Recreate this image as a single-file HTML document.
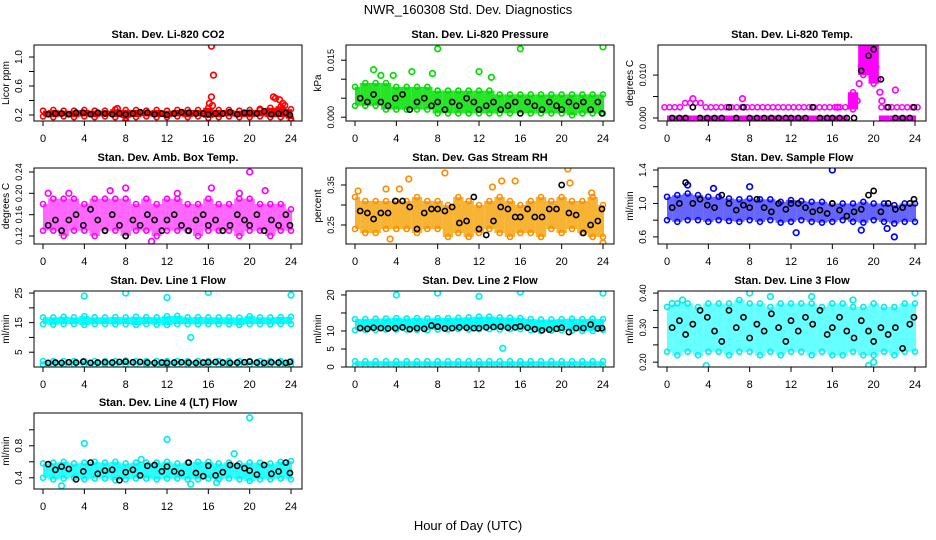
<!DOCTYPE html>
<html><head><meta charset="utf-8">
<style>
html,body{margin:0;padding:0;background:#fff;}
svg{display:block;font-family:"Liberation Sans",Arial,sans-serif;}
</style></head>
<body>
<svg id="chart" width="936" height="540" viewBox="0 0 936 540" xmlns="http://www.w3.org/2000/svg">
<text x="468" y="14" text-anchor="middle" font-size="13">NWR_160308  Std. Dev. Diagnostics</text>
<text x="468" y="530" text-anchor="middle" font-size="13">Hour of Day (UTC)</text>
</svg>
<script>
const hours=[0,1,2,3,4,5,6,7,8,9,10,11,12,13,14,15,16,17,18,19,20,21,22,23,24];
const blkX=[0.5,1.2,1.8,2.5,3.2,3.9,4.6,5.3,6,6.7,7.4,8,8.7,9.4,10.1,10.8,11.5,12,12.7,13.4,14.1,14.8,15.5,16,16.7,17.4,18.1,18.8,19.5,20,20.7,21.4,22.1,22.8,23.5,23.9];
const xTicks=[0,4,8,12,16,20,24];

// CO2
const co2Lo=[0.18,0.17,0.18,0.17,0.18,0.17,0.18,0.17,0.16,0.17,0.18,0.17,0.17,0.18,0.17,0.18,0.16,0.17,0.18,0.17,0.17,0.18,0.17,0.17,0.15];
const co2Hi=[0.26,0.27,0.26,0.26,0.27,0.26,0.26,0.28,0.27,0.27,0.26,0.27,0.26,0.27,0.27,0.27,0.30,0.27,0.27,0.26,0.27,0.27,0.30,0.32,0.28];
const co2OutX=[16.3,16.5,16.3,16.1,16.4,22.3,22.5,22.9,23.2,23.4,8.0,24.0,7.2,21.0];
const co2OutY=[1.15,0.75,0.45,0.36,0.33,0.45,0.43,0.41,0.36,0.33,0.12,0.12,0.29,0.28];
const co2Blk=[0.21,0.22,0.22,0.21,0.23,0.23,0.21,0.23,0.22,0.21,0.22,0.21,0.22,0.24,0.23,0.21,0.22,0.20,0.22,0.24,0.23,0.22,0.22,0.21,0.22,0.22,0.24,0.21,0.23,0.23,0.22,0.25,0.21,0.22,0.23,0.20];
// Pressure
const presLo=[0.003,0.003,0.003,0.002,0.002,0.002,0.002,0.002,0.001,0.001,0.001,0.001,0.001,0.001,0.001,0.001,0.001,0.001,0.001,0.001,0.001,0.0005,0.001,0.001,0.001];
const presHi=[0.008,0.009,0.009,0.009,0.008,0.008,0.008,0.008,0.007,0.007,0.007,0.007,0.007,0.007,0.006,0.006,0.006,0.006,0.006,0.006,0.006,0.006,0.006,0.006,0.006];
const presOutX=[1.8,2.5,5.5,8,12,13.2,16,24,3.7,7.5];
const presOutY=[0.0125,0.011,0.012,0.018,0.012,0.0105,0.018,0.0185,0.011,0.0115];
const presBlk=[0.005,0.004,0.006,0.004,0.003,0.005,0.006,0.002,0.004,0.005,0.003,0.004,0.002,0.004,0.003,0.005,0.004,0.002,0.003,0.004,0.002,0.003,0.004,0.001,0.004,0.003,0.002,0.004,0.003,0.002,0.004,0.003,0.004,0.002,0.004,0.001];
// Li-820 temp
const tempLo=[0,0,0,0,0,0,0,0,0,0,0,0,0,0,0,0,0,0,0.002,0.010,0.008,0,0,0,0];
const tempHi=[0.0025,0.0025,0.0035,0.0035,0.0025,0.0025,0.0025,0.0025,0.0025,0.0025,0.0025,0.0025,0.0025,0.0025,0.0025,0.0025,0.0025,0.0025,0.006,0.017,0.017,0.0025,0.0025,0.0025,0.0025];
const tempOutX=[18.4,18.6,18.8,19,19.2,19.5,19.8,20,20.2,20.4,20.6,20.8,22.1,7.3,2.5,16.5];
const tempOutY=[0.004,0.008,0.012,0.015,0.017,0.016,0.017,0.014,0.012,0.009,0.006,0.004,0.0065,0.0045,0.0045,0.0025];
const tempBlk=[0,0,0,0.0025,0,0,0,0,0.0025,0,0.0025,0,0,0,0,0,0,0,0,0,0.0025,0,0,0,0,0,0,0.011,0.0145,0.016,0.009,0.0025,0,0,0,0.0025];
// Amb box temp
const ambLo=[0.13,0.13,0.12,0.13,0.13,0.12,0.13,0.13,0.12,0.13,0.13,0.12,0.13,0.13,0.13,0.12,0.13,0.13,0.13,0.12,0.13,0.13,0.12,0.13,0.13];
const ambHi=[0.18,0.19,0.19,0.19,0.18,0.19,0.19,0.19,0.19,0.18,0.19,0.18,0.19,0.19,0.18,0.18,0.19,0.18,0.18,0.19,0.19,0.18,0.18,0.18,0.17];
const ambOutX=[8,20,2.5,6.5,13,16.3,21.5,19,0.5,10.5];
const ambOutY=[0.21,0.24,0.20,0.205,0.20,0.21,0.205,0.2,0.2,0.11];
const ambBlk=[0.14,0.15,0.13,0.15,0.16,0.14,0.17,0.15,0.13,0.16,0.14,0.12,0.15,0.14,0.16,0.15,0.13,0.15,0.16,0.14,0.13,0.15,0.16,0.14,0.15,0.13,0.14,0.16,0.15,0.14,0.16,0.13,0.15,0.14,0.16,0.14];
// RH
const rhLo=[0.24,0.23,0.23,0.24,0.24,0.24,0.23,0.24,0.24,0.22,0.23,0.22,0.23,0.24,0.23,0.22,0.23,0.23,0.22,0.24,0.23,0.24,0.23,0.22,0.22];
const rhHi=[0.32,0.31,0.31,0.31,0.31,0.31,0.32,0.31,0.31,0.30,0.32,0.31,0.30,0.31,0.32,0.31,0.30,0.31,0.32,0.31,0.32,0.31,0.31,0.32,0.30];
const rhOutX=[0.3,3,3.4,5.2,8.7,13.3,14.2,15.5,20.6,20.8,24,4.3,22.9];
const rhOutY=[0.335,0.34,0.215,0.365,0.38,0.345,0.36,0.36,0.39,0.355,0.205,0.34,0.33];
const rhBlk=[0.285,0.28,0.265,0.28,0.28,0.31,0.31,0.295,0.24,0.28,0.29,0.29,0.285,0.295,0.255,0.26,0.32,0.24,0.225,0.26,0.295,0.29,0.27,0.27,0.29,0.27,0.27,0.29,0.29,0.35,0.28,0.275,0.23,0.25,0.26,0.29];
// Sample flow
const sfLo=[0.8,0.78,0.8,0.8,0.78,0.8,0.79,0.78,0.8,0.78,0.8,0.77,0.78,0.8,0.78,0.77,0.78,0.8,0.78,0.77,0.8,0.78,0.76,0.78,0.78];
const sfHi=[1.08,1.1,1.12,1.1,1.08,1.08,1.06,1.05,1.06,1.05,1.05,1.02,1.04,1.03,1.02,1.02,1.0,1.0,1.0,1.02,1.0,1.0,0.98,1.0,1.0];
const sfOutX=[16,22,8,2,21.3,4.5,12.5,18.8];
const sfOutY=[1.4,0.6,1.2,1.22,0.7,1.18,0.65,0.68];
const sfBlk=[0.95,1.0,1.25,1.0,1.05,0.98,0.95,1.1,1.0,0.92,0.98,0.95,1.05,0.95,0.9,1.0,0.93,1.0,1.0,0.95,0.9,0.92,0.88,1.0,0.92,0.85,0.9,0.93,1.1,1.15,0.9,1.0,0.93,0.95,1.0,1.05];
// Line 1
const l1Lo=[14.5,14.3,14.5,14.5,14.2,14.5,14.5,14.4,14.5,14.2,14.5,14.3,14.2,14.5,14.5,14.4,14.5,14.5,14.4,14.2,14.5,14.5,14.4,14.5,14.5];
const l1Hi=[16.8,16.8,17,16.8,17.2,16.8,16.8,16.9,16.8,17,16.9,16.8,17.2,17.3,16.8,16.9,16.8,16.8,16.8,16.7,17.2,16.8,16.8,16.9,17];
const l1Lo2=[0.8,0.8,0.8,0.8,0.8,0.8,0.8,0.8,0.8,0.8,0.8,0.8,0.8,0.8,0.8,0.8,0.8,0.8,0.8,0.8,0.8,0.8,0.8,0.8,0.8];
const l1Hi2=[2,2,2,2,2,2,2,2,2.2,2,2,2,2,2,2,2,2,2,2,2,2,2,2,2,2];
const l1OutX=[4,8,12,16,24,14.3];
const l1OutY=[24,25,23.5,25.2,24.3,10];
const l1Blk=[1.4,1.5,1.4,1.6,1.5,1.8,1.4,1.5,1.6,1.5,1.7,1.8,1.6,1.7,1.5,1.4,1.5,1.4,1.5,1.6,1.5,1.4,1.5,1.6,1.7,1.5,1.4,1.5,1.6,1.8,1.5,1.4,1.6,1.5,1.4,1.7];
// Line 2
const l2Lo=[10.2,10.3,10.3,10.4,10.4,10.4,10.3,10.2,10.4,10.4,10.5,10.4,10.5,10.5,10.4,10.5,10.5,10.2,10.0,10.1,10.2,10.1,10.0,10.0,10.3];
const l2Hi=[13.3,13.3,13.4,13.5,13.6,13.5,13.6,13.5,13.6,13.6,13.7,13.8,14.0,14.0,13.8,13.7,13.6,13.3,13.2,13.2,13.3,13.4,13.3,13.4,13.3];
const l2Lo2=[0.3,0.3,0.3,0.3,0.3,0.3,0.3,0.3,0.3,0.3,0.3,0.3,0.3,0.3,0.3,0.3,0.3,0.3,0.3,0.3,0.3,0.3,0.3,0.3,0.3];
const l2Hi2=[1.6,1.6,1.6,1.6,1.6,1.6,1.6,1.6,1.6,1.6,1.6,1.6,1.6,1.6,1.6,1.6,1.6,1.6,1.6,1.6,1.6,1.6,1.6,1.6,1.6];
const l2OutX=[4,8,12,16,24,14.3];
const l2OutY=[20,20.5,19.6,20.8,20.5,5.2];
const l2Blk=[10.8,10.6,10.9,10.8,10.7,10.8,11,10.5,10.8,10.6,11.5,11.2,10.7,10.8,11,10.9,10.8,10.8,11,11.1,11.2,10.9,11,11.3,10.9,10.5,10.2,10.4,10.6,10.9,9.7,10.8,10.8,11.8,10.7,10.8];
// Line 3
const l3Lo=[0.23,0.22,0.23,0.22,0.23,0.23,0.22,0.23,0.23,0.22,0.23,0.22,0.23,0.23,0.22,0.23,0.22,0.22,0.23,0.22,0.22,0.23,0.22,0.23,0.23];
const l3Hi=[0.36,0.37,0.37,0.36,0.37,0.37,0.37,0.38,0.37,0.37,0.36,0.37,0.37,0.37,0.37,0.36,0.37,0.37,0.36,0.36,0.37,0.36,0.36,0.37,0.37];
const l3OutX=[1.5,3.8,8,10,14,19.5,20,24,0.5,18];
const l3OutY=[0.38,0.19,0.40,0.39,0.39,0.19,0.20,0.40,0.37,0.38];
const l3Blk=[0.30,0.32,0.28,0.31,0.35,0.33,0.29,0.26,0.35,0.30,0.33,0.27,0.31,0.29,0.34,0.30,0.26,0.32,0.29,0.33,0.31,0.35,0.28,0.30,0.33,0.29,0.27,0.32,0.29,0.26,0.30,0.28,0.30,0.24,0.31,0.33];
// Line 4
const l4Lo=[0.40,0.38,0.39,0.40,0.38,0.39,0.39,0.37,0.38,0.39,0.39,0.38,0.39,0.39,0.38,0.38,0.39,0.38,0.39,0.38,0.36,0.38,0.38,0.39,0.38];
const l4Hi=[0.58,0.59,0.60,0.58,0.59,0.60,0.59,0.60,0.58,0.59,0.59,0.59,0.60,0.58,0.59,0.60,0.60,0.58,0.59,0.58,0.59,0.59,0.58,0.60,0.61];
const l4OutX=[4,12,20,18.5,1.8,9.5,14.3,16.8];
const l4OutY=[0.83,0.88,1.15,0.70,0.30,0.63,0.32,0.34];
const l4Blk=[0.57,0.50,0.54,0.51,0.38,0.48,0.59,0.45,0.49,0.50,0.37,0.47,0.50,0.43,0.55,0.56,0.48,0.54,0.48,0.46,0.59,0.46,0.42,0.55,0.43,0.47,0.56,0.55,0.52,0.49,0.44,0.56,0.45,0.48,0.59,0.46];

const NS="http://www.w3.org/2000/svg";
const svg=document.getElementById('chart');
function mk(tag,attrs,parent){const e=document.createElementNS(NS,tag);for(const k in attrs)e.setAttribute(k,attrs[k]);(parent||svg).appendChild(e);return e;}

const cols=[34,346,658], rows=[45,168,291,413], BW=268, BH=76;
const panels=[
 {title:"Stan. Dev. Li-820 CO2",ylab:"Licor ppm",ymin:0.117,ymax:1.166,ticks:[0.2,0.4,0.6,0.8,1.0],labels:["0.2","","0.6","","1.0"],color:"#ff0000",fill:"#ff0000",op:1,lo:co2Lo,hi:co2Hi,outX:co2OutX,outY:co2OutY,blk:co2Blk,r:0,c:0,name:"co2"},
 {title:"Stan. Dev. Li-820 Pressure",ylab:"kPa",ymin:-0.001,ymax:0.019,ticks:[0,0.005,0.010,0.015],labels:["0.000","","","0.015"],color:"#00dd00",fill:"#00e000",op:0.85,lo:presLo,hi:presHi,outX:presOutX,outY:presOutY,blk:presBlk,r:0,c:1,name:"pressure"},
 {title:"Stan. Dev. Li-820 Temp.",ylab:"degrees C",ymin:-0.0007,ymax:0.017,ticks:[0,0.005,0.010],labels:["0.000","","0.010"],color:"#ff00ff",fill:"#ff00ff",op:1,lo:tempLo,hi:tempHi,outX:tempOutX,outY:tempOutY,blk:tempBlk,r:0,c:2,name:"temp",sparse:true},
 {title:"Stan. Dev. Amb. Box Temp.",ylab:"degrees C",ymin:0.105,ymax:0.2475,ticks:[0.12,0.16,0.20,0.24],labels:["0.12","0.16","0.20","0.24"],color:"#ff00ff",fill:"#ff00ff",op:0.6,lo:ambLo,hi:ambHi,outX:ambOutX,outY:ambOutY,blk:ambBlk,r:1,c:0,name:"amb-temp"},
 {title:"Stan. Dev. Gas Stream RH",ylab:"percent",ymin:0.2025,ymax:0.3925,ticks:[0.25,0.30,0.35],labels:["0.25","","0.35"],color:"#ff8c00",fill:"#f5a000",op:0.8,lo:rhLo,hi:rhHi,outX:rhOutX,outY:rhOutY,blk:rhBlk,r:1,c:1,name:"rh"},
 {title:"Stan. Dev. Sample Flow",ylab:"ml/min",ymin:0.515,ymax:1.424,ticks:[0.6,0.8,1.0,1.2,1.4],labels:["0.6","","1.0","","1.4"],color:"#0000ff",fill:"#0000ff",op:0.6,lo:sfLo,hi:sfHi,outX:sfOutX,outY:sfOutY,blk:sfBlk,r:1,c:2,name:"sample-flow"},
 {title:"Stan. Dev. Line 1 Flow",ylab:"ml/min",ymin:0,ymax:25.7,ticks:[5,10,15,20,25],labels:["5","","15","","25"],color:"#00eeee",fill:"#00ffff",op:1,lo:l1Lo,hi:l1Hi,lo2:l1Lo2,hi2:l1Hi2,outX:l1OutX,outY:l1OutY,blk:l1Blk,r:2,c:0,name:"line1"},
 {title:"Stan. Dev. Line 2 Flow",ylab:"ml/min",ymin:0,ymax:21.1,ticks:[0,5,10,15,20],labels:["0","5","10","","20"],color:"#00eeee",fill:"#00ffff",op:1,lo:l2Lo,hi:l2Hi,lo2:l2Lo2,hi2:l2Hi2,outX:l2OutX,outY:l2OutY,blk:l2Blk,r:2,c:1,name:"line2"},
 {title:"Stan. Dev. Line 3 Flow",ylab:"ml/min",ymin:0.186,ymax:0.406,ticks:[0.20,0.25,0.30,0.35,0.40],labels:["0.20","","0.30","","0.40"],color:"#00eeee",fill:"#00ffff",op:0.6,lo:l3Lo,hi:l3Hi,outX:l3OutX,outY:l3OutY,blk:l3Blk,r:2,c:2,name:"line3"},
 {title:"Stan. Dev. Line 4 (LT) Flow",ylab:"ml/min",ymin:0.26,ymax:1.21,ticks:[0.4,0.6,0.8,1.0],labels:["0.4","","0.8",""],color:"#00eeee",fill:"#00ffff",op:0.85,lo:l4Lo,hi:l4Hi,outX:l4OutX,outY:l4OutY,blk:l4Blk,r:3,c:0,name:"line4"}
];

panels.forEach(p=>{
  const L=cols[p.c], T=rows[p.r];
  const X=v=>L+9+v*(248/24);
  const Y=v=>T+BH-(v-p.ymin)/(p.ymax-p.ymin)*BH;
  const g=mk('g',{});
  
  
  const t=mk('text',{x:L+BW/2,y:T-7,'text-anchor':'middle','font-size':11,'font-weight':'bold'},g);
  t.textContent=p.title;
  
  
  const clipId='clip-'+p.name;
  const cp=mk('clipPath',{id:clipId},g); mk('rect',{x:L,y:T,width:BW,height:BH},cp);
  const data=mk('g',{'clip-path':'url(#'+clipId+')'},g);
  function band(lo,hi,tag){
    hours.forEach((h,i)=>{
      const x1=X(Math.max(0,h-0.5)), x2=X(Math.min(24.1,h+0.5));
      const y1=Y(hi[i]), y2=Y(lo[i]);
      if(p.sparse && lo[i]===0 && hi[i]<=0.0035){
        const a=mk('rect',{x:x1,y:y2-2.5,width:x2-x1,height:5,fill:p.fill},data);
        
        
        [h-0.25,h+0.25].forEach(hx=>{
          const b=mk('circle',{cx:X(hx),cy:y1,r:2.5,fill:'none',stroke:p.fill,'stroke-width':1.6},data);
          
          
        });
        return;
      }
      const r=mk('rect',{x:x1,y:y1,width:x2-x1,height:Math.max(2,y2-y1),fill:p.fill,'fill-opacity':p.op},data);
      
      
      [y1,y2].forEach(yy=>{
        const c=mk('circle',{cx:X(h),cy:yy,r:2.5,fill:'none',stroke:p.color,'stroke-width':1.6},data);
        
        
      });
    });
  }
  band(p.lo,p.hi,p.name+'-band');
  if(p.lo2) band(p.lo2,p.hi2,p.name+'-low-band');
  p.outX.forEach((x,i)=>{
    const c=mk('circle',{cx:X(x),cy:Y(p.outY[i]),r:2.8,fill:'none',stroke:p.color,'stroke-width':1.7},data);
    
    
  });
  blkX.forEach((x,i)=>{
    const c=mk('circle',{cx:X(x),cy:Y(p.blk[i]),r:2.6,fill:'none',stroke:'#000','stroke-width':1.6},data);
    
    
  });
  const box=mk('rect',{x:L,y:T,width:BW,height:BH,fill:'none',stroke:'#000','stroke-width':1},g);
  
  
  xTicks.forEach(v=>{
    mk('line',{x1:X(v),x2:X(v),y1:T+BH,y2:T+BH+5,stroke:'#000'},g);
    const tl=mk('text',{x:X(v),y:T+BH+21,'text-anchor':'middle','font-size':11},g);
    tl.textContent=v;
    
    
  });
  p.ticks.forEach((v,i)=>{
    const yy=Y(v);
    mk('line',{x1:L,x2:L-5,y1:yy,y2:yy,stroke:'#000'},g);
    if(p.labels[i]){
      const fs=p.labels[i].length>3?9:10;
      const tl=mk('text',{x:0,y:0,'text-anchor':'middle','font-size':fs,transform:`translate(${L-12},${yy}) rotate(-90)`},g);
      tl.textContent=p.labels[i];
      
      
    }
  });
  const yl=mk('text',{x:0,y:0,'text-anchor':'middle','font-size':10,transform:`translate(${L-25},${T+BH/2}) rotate(-90)`},g);
  yl.textContent=p.ylab;
  
  
});
</script>
</body></html>
